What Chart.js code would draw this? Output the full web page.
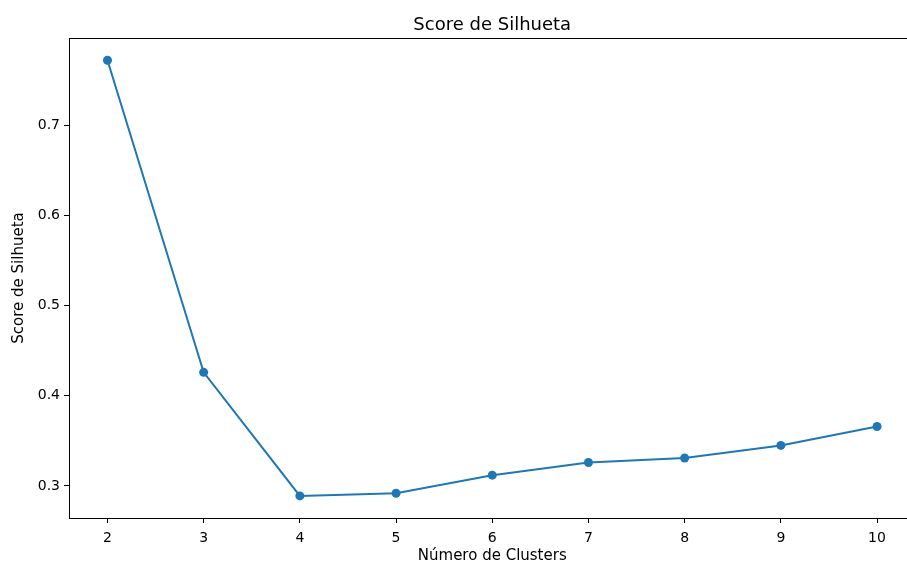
<!DOCTYPE html>
<html>
<head>
<meta charset="utf-8">
<script src="https://cdn.jsdelivr.net/npm/chart.js@4"></script>
<style>
  html, body { margin: 0; padding: 0; background: #fff; overflow: hidden; }
  #wrap { width: 920px; height: 561px; position: relative; }
</style>
</head>
<body>
<div id="wrap"><canvas id="silChart"></canvas></div>
<script>
// data
const clusters = [2, 3, 4, 5, 6, 7, 8, 9, 10];
const silhouette = [0.772, 0.426, 0.289, 0.292, 0.312, 0.326, 0.331, 0.345, 0.366];
const yTicks = [0.3, 0.4, 0.5, 0.6, 0.7];

const FONT = 'DejaVu Sans';

// matplotlib-style frame; the right spine falls outside the 907px window
const framePlugin = {
  id: 'frame',
  afterDraw(chart) {
    const { ctx, chartArea: a } = chart;
    ctx.save();
    ctx.strokeStyle = '#000';
    ctx.lineWidth = 1;
    ctx.strokeRect(a.left + 0.5, a.top + 0.5, a.right - a.left, a.bottom - a.top);
    ctx.restore();
  }
};

new Chart(document.getElementById('silChart'), {
  type: 'line',
  data: {
    datasets: [{
      label: 'Score de Silhueta',
      data: clusters.map((c, i) => ({ x: c, y: silhouette[i] })),
      borderColor: '#1f77b4',
      backgroundColor: '#1f77b4',
      borderWidth: 2,
      pointRadius: 4.5,
      pointHoverRadius: 4.5,
      pointBorderWidth: 0,
      tension: 0
    }]
  },
  options: {
    responsive: true,
    maintainAspectRatio: false,
    animation: false,
    layout: { padding: { right: 2 } },
    plugins: {
      legend: { display: false },
      tooltip: { enabled: false },
      title: {
        display: true,
        fullSize: false,
        text: 'Score de Silhueta',
        color: '#000',
        font: { family: FONT, size: 18, weight: 'normal' },
        padding: { top: 14.5, bottom: 1.9 }
      }
    },
    scales: {
      x: {
        type: 'linear',
        min: 1.6,
        max: 10.4,
        afterBuildTicks: s => { s.ticks = clusters.map(v => ({ value: v })); },
        afterFit: s => { s.height = 43; },
        grid: { display: true, drawOnChartArea: false, drawTicks: true, tickLength: 5, color: '#000' },
        border: { display: false },
        ticks: { color: '#000', font: { family: FONT, size: 14 }, padding: 7, maxRotation: 0 },
        title: {
          display: true,
          text: 'Número de Clusters',
          color: '#000',
          font: { family: FONT, size: 15 },
          padding: { top: 1, bottom: -4 }
        }
      },
      y: {
        type: 'linear',
        min: 0.2645,
        max: 0.7967,
        afterBuildTicks: s => { s.ticks = yTicks.map(v => ({ value: v })); },
        afterFit: s => { s.width = 69; },
        grid: { display: true, drawOnChartArea: false, drawTicks: true, tickLength: 5, color: '#000' },
        border: { display: false },
        ticks: {
          color: '#000',
          font: { family: FONT, size: 14 },
          padding: 4,
          callback: v => v.toFixed(1)
        },
        title: {
          display: true,
          text: 'Score de Silhueta',
          color: '#000',
          font: { family: FONT, size: 15 },
          padding: { top: 10, bottom: 0 }
        }
      }
    }
  },
  plugins: [framePlugin]
});
</script>
</body>
</html>
